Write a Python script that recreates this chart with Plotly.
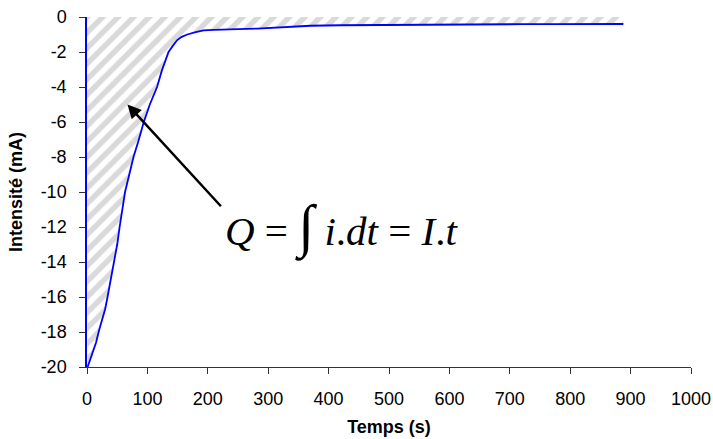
import plotly.graph_objects as go

# Data
temps = [1, 3, 6, 10, 15, 20, 25, 30, 34, 38, 42, 46, 50, 54, 58, 63, 70, 77, 85, 94, 104,
         116, 124, 130, 135, 142, 149, 156, 166, 180, 193, 210, 221, 250, 282, 320,
         370, 420, 480, 550, 602, 660, 720, 780, 840, 870, 888]
intensite = [-20.0, -19.8, -19.5, -19.1, -18.6, -17.9, -17.3, -16.7, -16.0, -15.3, -14.4, -13.7,
             -13.0, -12.0, -11.2, -10.0, -9.0, -8.0, -7.1, -6.0, -5.0,
             -4.0, -3.05, -2.5, -2.0, -1.65, -1.33, -1.15, -1.0, -0.86, -0.76, -0.74, -0.72, -0.69, -0.66, -0.58,
             -0.5, -0.47, -0.45, -0.43, -0.42, -0.42, -0.41, -0.41, -0.41, -0.40, -0.40]

x_ticks = list(range(0, 1001, 100))
y_ticks = list(range(-20, 1, 2))
y_tick_labels = [str(v) for v in y_ticks]

font_main = "Arial, Liberation Sans, sans-serif"

fig = go.Figure()

# hatched area between curve and zero
fig.add_trace(go.Scatter(
    x=[0] + temps + [temps[-1], 0],
    y=[0] + intensite + [0, 0],
    mode="none",
    fill="toself",
    fillcolor="white",
    fillpattern=dict(shape="/", fgcolor="#b4b4b4", bgcolor="white", size=11, solidity=0.5),
    hoverinfo="skip",
    showlegend=False,
))

fig.add_trace(go.Scatter(
    x=temps, y=intensite, mode="lines",
    line=dict(color="#0000ff", width=1.8),
    showlegend=False,
))

fig.add_annotation(
    x=67, y=-5.0, xref="x", yref="y",
    ax=224, ay=-10.9, axref="x", ayref="y",
    showarrow=True, arrowhead=2, arrowsize=1.1, arrowwidth=2.5, arrowcolor="black",
    text="",
)

fig.add_annotation(
    x=422, y=-12.0, xref="x", yref="y",
    text="<i>Q</i> = <span style='font-size:58px'>∫</span> <i>i</i>.<i>dt</i> = <i>I</i>.<i>t</i>",
    showarrow=False,
    font=dict(family="Liberation Serif, Times New Roman, serif", size=41, color="black"),
)

fig.update_layout(
    width=713, height=439, autosize=False,
    margin=dict(l=87, r=22, t=17, b=72),
    paper_bgcolor="white", plot_bgcolor="white",
    font=dict(family=font_main, color="black"),
    xaxis=dict(
        range=[0, 1000], tickvals=x_ticks, ticks="outside", ticklen=6, tickcolor="#333",
        showline=True, linecolor="#333", linewidth=1.2, showgrid=False, zeroline=False,
        automargin=False, ticklabeloverflow="allow",
        tickfont=dict(size=18, family=font_main), ticklabelstandoff=9,
        title=dict(text="<b>Temps (s)</b>", font=dict(size=18, family=font_main), standoff=12),
    ),
    yaxis=dict(
        range=[-20, 0], tickvals=y_ticks, ticktext=y_tick_labels,
        ticks="outside", ticklen=6, tickcolor="#333",
        showline=True, linecolor="#0000ff", linewidth=1.5, showgrid=False, zeroline=False,
        automargin=False, ticklabeloverflow="allow",
        tickfont=dict(size=18, family=font_main), ticklabelstandoff=9,
        title=dict(text="<b>Intensité (mA)</b>", font=dict(size=18, family=font_main), standoff=13),
    ),
)

fig.write_html(
    "out.html",
    config={"displayModeBar": False},
    post_script="document.body.style.margin='0';document.body.style.overflow='hidden';",
)
